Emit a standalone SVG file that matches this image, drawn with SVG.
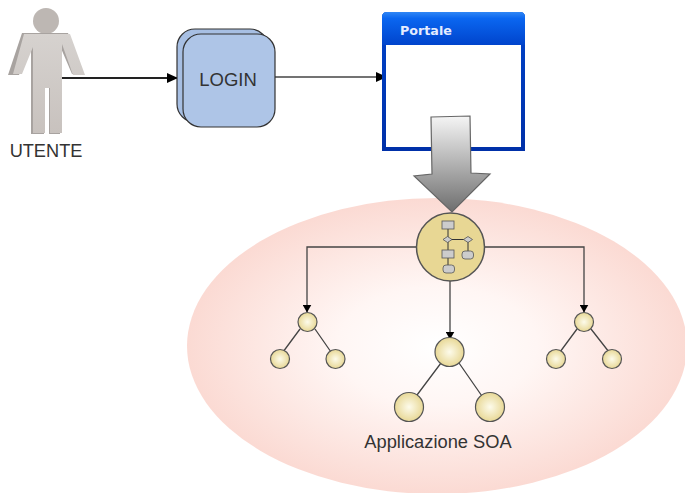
<svg xmlns="http://www.w3.org/2000/svg" width="685" height="493" viewBox="0 0 685 493">
<style>
text{font-family:"Liberation Sans",Arial,sans-serif;fill:#333}
.c{fill:none;stroke:#444;stroke-width:1.3}
.n{fill:url(#nodeG);stroke:#555;stroke-width:1.2}
.f{fill:#ccc;stroke:#555;stroke-width:.8}
</style>
<defs>
<radialGradient id="ell" cx=".5" cy=".5" r=".5"><stop offset="0" stop-color="#fff"/><stop offset=".4" stop-color="#fff6f4"/><stop offset="1" stop-color="#fbdad3"/></radialGradient>
<radialGradient id="nodeG" cx=".5" cy=".5" r=".5"><stop offset="0" stop-color="#fdfbeb"/><stop offset="1" stop-color="#e8d896"/></radialGradient>
<linearGradient id="arr" x1="0" y1="0" x2="0" y2="1"><stop offset="0" stop-color="#f5f5f5"/><stop offset="1" stop-color="#6e6e6e"/></linearGradient>
<linearGradient id="bar" x1="0" y1="0" x2="0" y2="1"><stop offset="0" stop-color="#2f86f5"/><stop offset=".2" stop-color="#0a66f0"/><stop offset="1" stop-color="#0044cc"/></linearGradient>
<linearGradient id="edge" x1="0" y1="0" x2="0" y2="1"><stop offset="0" stop-color="#0044cc"/><stop offset="1" stop-color="#0030a8"/></linearGradient>
<linearGradient id="body" x1="0" y1="0" x2="0" y2="1"><stop offset="0" stop-color="#d6d2cf"/><stop offset="1" stop-color="#c8c2be"/></linearGradient>
<marker id="ah" markerWidth="11" markerHeight="10" refX="10" refY="5" orient="auto" markerUnits="userSpaceOnUse"><path d="M0 0L11 5L0 10Z" fill="#000"/></marker>
<marker id="as" markerWidth="8" markerHeight="9" refX="7.500" refY="4.500" orient="auto" markerUnits="userSpaceOnUse"><path d="M0 0L8 4.500L0 9Z" fill="#000"/></marker>
</defs>

<g id="soa-area"><ellipse cx="437" cy="346" rx="250" ry="148" fill="url(#ell)"/></g>

<g id="connectors">
<path d="M62 78H177" fill="none" stroke="#222" stroke-width="1.8" marker-end="url(#ah)"/>
<path d="M275 77H386" class="c" marker-end="url(#ah)"/>
<path d="M417 247H307V312" class="c" marker-end="url(#as)"/>
<path d="M450 281V339" class="c" marker-end="url(#as)"/>
<path d="M484 247H584V312" class="c" marker-end="url(#as)"/>
<path d="M300 329L283 352M315 329L331 352M441 363L414 399M459 363L484 399M577 329L560 352M591 329L609 352" class="c" stroke="#666"/>
</g>

<g id="utente">
<circle cx="46" cy="21" r="13" fill="#bdb7b3"/>
<path d="M22 33H68L82 74H72L60 46V134H49V88H44V134H31V47L19 75H8Z" fill="#a8a3a0"/>
<path d="M24 34H70L85 75H73L62 44V133H50V88H45V133H33V47L22 74H13Z" fill="url(#body)"/>
<text x="46" y="157" text-anchor="middle" font-size="18.200">UTENTE</text>
</g>

<g id="login">
<rect x="177" y="29" width="91" height="93" rx="18" fill="#a7bfe3" stroke="#333" stroke-width="1.2"/>
<rect x="183" y="34" width="92" height="93" rx="18" fill="#aec5e7" stroke="#333" stroke-width="1.2"/>
<text x="228" y="86" text-anchor="middle" font-size="18.500">LOGIN</text>
</g>

<g id="portale">
<path d="M382 151V17Q382 12 387 12H520Q525 12 525 17V151Z" fill="url(#edge)"/>
<rect x="386" y="45" width="135" height="102" fill="#fff"/>
<path d="M382 45V17Q382 12 387 12H520Q525 12 525 17V45Z" fill="url(#bar)"/>
<text x="400" y="35" font-size="12.700" font-weight="bold" style="font-family:'DejaVu Sans',sans-serif;fill:#e4ecff">Portale</text>
</g>

<g id="big-arrow">
<path d="M431 117L470 116L471 173L490 174L452 212L414 176L432 174Z" fill="url(#arr)" stroke="#666" stroke-width="1.2"/>
</g>

<g id="process-node">
<circle cx="450.500" cy="247" r="34" fill="#e8d794" stroke="#555" stroke-width="1.500"/>
<path d="M448 229V265M448 239.500H468V251" fill="none" stroke="#333" stroke-width="1"/>
<rect x="442" y="221" width="12" height="8" class="f"/>
<path d="M447.500 236.500L452 239.500L447.500 242.500L443 239.500Z" class="f"/>
<path d="M468 236.500L472.500 239.500L468 242.500L463.500 239.500Z" class="f"/>
<rect x="442" y="250" width="12" height="8" class="f"/>
<rect x="462" y="251" width="11.500" height="8" rx="3" class="f"/>
<rect x="443" y="265" width="11.500" height="8" rx="3" class="f"/>
</g>

<g id="tree-left">
<circle cx="307.500" cy="322" r="9.500" class="n"/>
<circle cx="280" cy="359" r="9.500" class="n"/>
<circle cx="335.500" cy="359" r="9.500" class="n"/>
</g>
<g id="tree-center">
<circle cx="449.500" cy="352" r="14.500" class="n"/>
<circle cx="409" cy="407" r="14.500" class="n"/>
<circle cx="490" cy="407" r="14.500" class="n"/>
</g>
<g id="tree-right">
<circle cx="584" cy="322" r="9.500" class="n"/>
<circle cx="556" cy="359" r="9.500" class="n"/>
<circle cx="612" cy="359" r="9.500" class="n"/>
</g>
<text id="soa-label" x="438" y="448" text-anchor="middle" font-size="18.300">Applicazione SOA</text>
</svg>
